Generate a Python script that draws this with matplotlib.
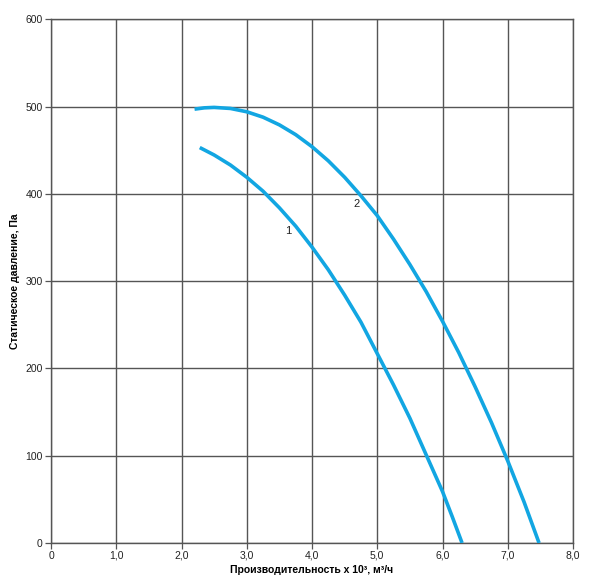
"""Fan performance curves: static pressure vs airflow."""

import matplotlib.pyplot as plt

plt.rcParams["font.family"] = ["Liberation Sans", "DejaVu Sans"]

# curve 1
flow_1 = [2.28, 2.5, 2.75, 3.0, 3.25, 3.5, 3.75, 4.0, 4.25, 4.5, 4.75, 5.0,
          5.25, 5.5, 5.75, 6.0, 6.15, 6.3]
pressure_1 = [453, 444.5, 433, 419, 403, 384, 363, 339, 313, 284, 253, 217,
              181, 143, 101, 59, 30, 0]

# curve 2
flow_2 = [2.2, 2.35, 2.5, 2.75, 3.0, 3.25, 3.5, 3.75, 4.0, 4.25, 4.5, 4.75,
          5.0, 5.25, 5.5, 5.75, 6.0, 6.25, 6.5, 6.75, 7.0, 7.25, 7.48]
pressure_2 = [497, 498.5, 499, 497.8, 494, 487.8, 479, 467.8, 454, 437.8, 419,
              397.8, 375, 348, 319, 288, 254, 218, 179, 138, 94, 47, 0]

curve_labels = ["1", "2"]
label_pos = [(3.63, 357), (4.69, 388)]

x_ticks = [0, 1, 2, 3, 4, 5, 6, 7, 8]
x_tick_labels = ["0", "1,0", "2,0", "3,0", "4,0", "5,0", "6,0", "7,0", "8,0"]
y_ticks = [0, 100, 200, 300, 400, 500, 600]

CURVE_COLOR = "#12a6e2"
GRID_COLOR = "#555555"

fig = plt.figure(figsize=(6.0, 5.83), dpi=100)
ax = fig.add_axes([0.085, 0.0686, 0.87, 0.8984])

ax.plot(flow_1, pressure_1, color=CURVE_COLOR, lw=2.6, solid_capstyle="butt",
        solid_joinstyle="round", zorder=3)
ax.plot(flow_2, pressure_2, color=CURVE_COLOR, lw=2.6, solid_capstyle="butt",
        solid_joinstyle="round", zorder=3)

for text, (x, y) in zip(curve_labels, label_pos):
    ax.text(x, y, text, fontsize=8, ha="center", va="center", color="#222222")

ax.set_xlim(0, 8)
ax.set_ylim(0, 600)
ax.set_xticks(x_ticks)
ax.set_xticklabels(x_tick_labels)
ax.set_yticks(y_ticks)
ax.tick_params(labelsize=7.5, length=4, width=0.9, color=GRID_COLOR,
               labelcolor="#222222")
ax.tick_params(axis="x", pad=1.5)
ax.tick_params(axis="y", pad=2)

ax.grid(True, color=GRID_COLOR, lw=1.0)
ax.set_axisbelow(True)
for spine in ax.spines.values():
    spine.set_color(GRID_COLOR)
    spine.set_linewidth(1.0)

ax.set_xlabel("Производительность х 10³, м³/ч", fontsize=7.5, fontweight="bold",
              labelpad=3)
ax.set_ylabel("Статическое давление, Па", fontsize=7.5, fontweight="bold",
              labelpad=4)

fig.savefig("out.png", dpi=100)
